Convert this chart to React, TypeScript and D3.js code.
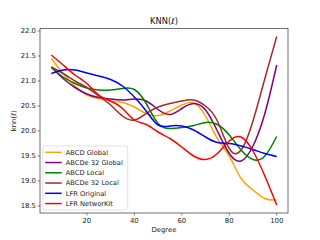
import React from "react";
import * as d3 from "d3";

// degrees sampled along the curves
const degrees = [5, 10, 15, 20, 25, 30, 35, 40, 45, 50, 55, 60, 65, 70, 75, 80, 85, 90, 95, 100];

const abcdGlobal = [21.45, 21.15, 20.9, 20.72, 20.65, 20.6, 20.57, 20.48, 20.35, 20.31, 20.4, 20.52, 20.56, 20.3, 19.85, 19.5, 19.05, 18.82, 18.65, 18.62];
const abcde32Global = [21.28, 21.05, 20.87, 20.74, 20.67, 20.64, 20.62, 20.64, 20.6, 20.43, 20.33, 20.45, 20.55, 20.42, 20.0, 19.55, 19.4, 19.7, 20.35, 21.32];
const abcdLocal = [21.27, 21.08, 20.95, 20.86, 20.82, 20.82, 20.85, 20.83, 20.55, 20.15, 20.05, 20.07, 20.11, 20.17, 20.13, 19.92, 19.62, 19.43, 19.5, 19.89];
const abcde32Local = [21.28, 21.15, 21.0, 20.87, 20.7, 20.52, 20.3, 20.22, 20.35, 20.48, 20.55, 20.6, 20.62, 20.5, 20.2, 19.65, 19.62, 20.2, 21.05, 21.89];
const lfrOriginal = [21.15, 21.22, 21.22, 21.16, 21.1, 21.03, 20.9, 20.68, 20.4, 20.12, 20.1, 20.1, 20.02, 19.88, 19.77, 19.75, 19.7, 19.63, 19.55, 19.49];
const lfrNetworkit = [21.52, 21.32, 21.12, 20.95, 20.72, 20.6, 20.45, 20.22, 20.13, 19.98, 19.85, 19.68, 19.5, 19.43, 19.55, 19.8, 19.88, 19.6, 19.1, 18.52];

const seriesNames = ["ABCD Global", "ABCDe 32 Global", "ABCD Local", "ABCDe 32 Local", "LFR Original", "LFR NetworKit"];
const seriesColors = ["orange", "purple", "green", "brown", "blue", "red"];
const seriesValues = [abcdGlobal, abcde32Global, abcdLocal, abcde32Local, lfrOriginal, lfrNetworkit];

const xTicks = [20, 40, 60, 80, 100];
const yTicks = [18.5, 19.0, 19.5, 20.0, 20.5, 21.0, 21.5, 22.0];

const W = 320, H = 240;
const margin = { top: 28.5, right: 32, bottom: 27, left: 40 };
const font = "DejaVu Sans, sans-serif";

export default function App() {
  const x = d3.scaleLinear().domain([0.25, 104.75]).range([margin.left, W - margin.right]);
  const y = d3.scaleLinear().domain([18.36, 22.05]).range([H - margin.bottom, margin.top]);

  const line = d3
    .line<number>()
    .x((_, i) => x(degrees[i]))
    .y((d) => y(d))
    .curve(d3.curveNatural);

  const x0 = margin.left, x1 = W - margin.right;
  const y0 = margin.top, y1 = H - margin.bottom;

  // legend box
  const lx = 42.7, ly = 146, lw = 85, rowH = 10.25;

  return (
    <svg width={W} height={H} style={{ position: "absolute", left: 0, top: 0, background: "#fff" }} fontFamily={font}>
      <defs>
        <clipPath id="plot">
          <rect x={x0} y={y0} width={x1 - x0} height={y1 - y0} />
        </clipPath>
      </defs>

      <g clipPath="url(#plot)">
        {seriesValues.map((vals, k) => (
          <path key={k} d={line(vals) || ""} fill="none" stroke={seriesColors[k]} strokeWidth={1.5} />
        ))}
      </g>

      <rect x={x0} y={y0} width={x1 - x0} height={y1 - y0} fill="none" stroke="#333" strokeWidth={0.7} />

      {xTicks.map((t) => (
        <g key={t}>
          <line x1={x(t)} x2={x(t)} y1={y1} y2={y1 + 2.5} stroke="#333" strokeWidth={0.6} />
          <text x={x(t)} y={y1 + 10} fontSize={6.9} textAnchor="middle" fill="#222">{t}</text>
        </g>
      ))}
      {yTicks.map((t) => (
        <g key={t}>
          <line x1={x0 - 2.5} x2={x0} y1={y(t)} y2={y(t)} stroke="#333" strokeWidth={0.6} />
          <text x={x0 - 4} y={y(t) + 2.4} fontSize={6.9} textAnchor="end" fill="#222">{t.toFixed(1)}</text>
        </g>
      ))}

      <text x={(x0 + x1) / 2} y={23.5} fontSize={8.3} textAnchor="middle" fill="#111">
        KNN(<tspan fontStyle="italic">ℓ</tspan>)
      </text>
      <text x={(x0 + x1) / 2} y={232} fontSize={6.9} textAnchor="middle" fill="#222">Degree</text>
      <text transform={`translate(15.5,${(y0 + y1) / 2}) rotate(-90)`} fontSize={6.9} textAnchor="middle" fill="#222">
        knn(<tspan fontStyle="italic">ℓ</tspan>)
      </text>

      <rect x={lx} y={ly} width={lw} height={rowH * 6 + 2.5} rx={2} fill="#fff" fillOpacity={0.8} stroke="#ccc" strokeWidth={0.6} />
      {seriesNames.map((name, k) => {
        const ry = ly + 6.3 + k * rowH;
        return (
          <g key={name}>
            <line x1={lx + 2.5} x2={lx + 19} y1={ry} y2={ry} stroke={seriesColors[k]} strokeWidth={1.5} />
            <text x={lx + 23} y={ry + 2.4} fontSize={6.7} fill="#222">{name}</text>
          </g>
        );
      })}
    </svg>
  );
}
